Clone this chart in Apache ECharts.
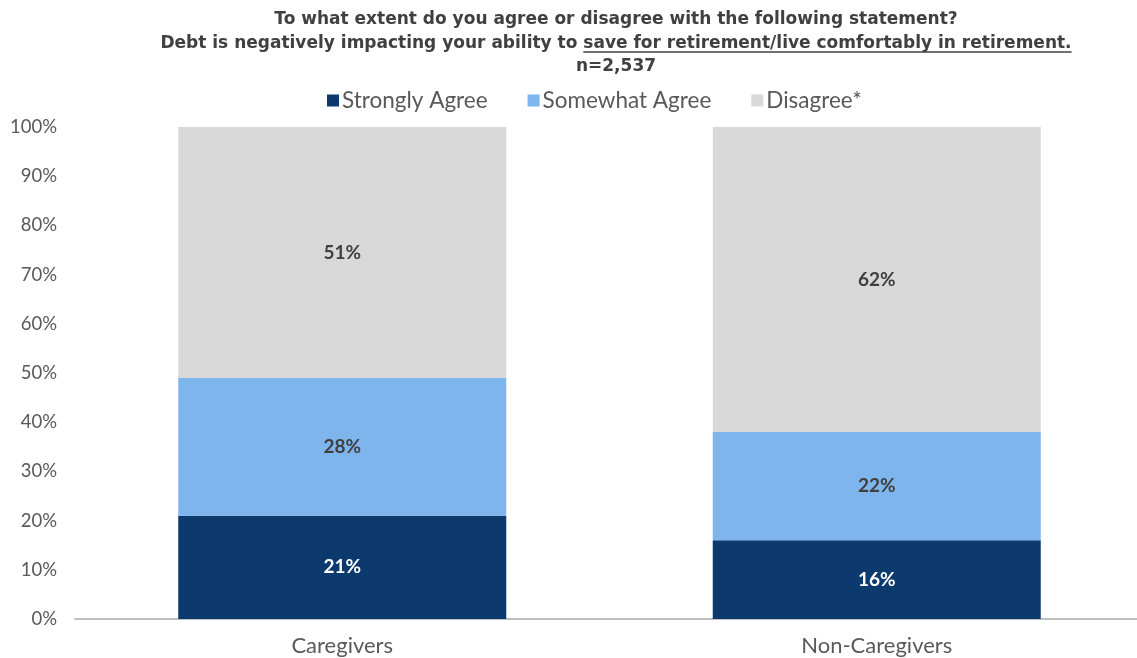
<!DOCTYPE html>
<html><head><meta charset="utf-8">
<script src="https://cdn.jsdelivr.net/npm/echarts@6/dist/echarts.min.js"></script>
<style>html,body{margin:0;padding:0;background:#fff;overflow:hidden}#c{width:1144px;height:658px}</style>
</head><body><div id="c"></div>
<script>
var categories = ['Caregivers', 'Non-Caregivers'];
var seriesNames = ['Strongly Agree', 'Somewhat Agree', 'Disagree*'];
var stronglyAgree = [21, 16];
var somewhatAgree = [28, 22];
var disagree = [51, 62];
var yTicks = [0, 10, 20, 30, 40, 50, 60, 70, 80, 90, 100];

var titleLine1 = 'To what extent do you agree or disagree with the following statement?';
var titleLine2a = 'Debt is negatively impacting your ability to ';
var titleLine2b = 'save for retirement/live comfortably in retirement.';
var titleLine3 = 'n=2,537';

var colors = ['#0c3a6e', '#7fb5ed', '#d9d9d9'];
var labelColors = ['#ffffff', '#404040', '#404040'];
var uiFont = 'Lato, "Open Sans", sans-serif';
var titleFont = '"DejaVu Sans", sans-serif';
var titleSize = 17;
var titleCx = 616;

var chart = echarts.init(document.getElementById('c'), null, {renderer: 'canvas'});

function mkSeries(name, data, i) {
  return {
    name: name, type: 'bar', stack: 'total', data: data, barWidth: 328,
    itemStyle: {color: colors[i]},
    label: {show: true, position: 'inside', formatter: '{c}%', color: labelColors[i],
      fontFamily: uiFont, fontWeight: 'bold', fontSize: 19}
  };
}

// measure underline position
var cv = document.createElement('canvas').getContext('2d');
cv.font = 'bold ' + titleSize + 'px ' + titleFont;
var wA = cv.measureText(titleLine2a).width;
var wB = cv.measureText(titleLine2b).width;
var line2Left = titleCx - (wA + wB) / 2;
var ulY = 52;

chart.setOption({
  animation: false,
  title: {
    text: titleLine1 + '\n' + titleLine2a + titleLine2b + '\n' + titleLine3,
    left: titleCx, top: 8, textAlign: 'center', padding: 0,
    textStyle: {fontFamily: titleFont, fontWeight: 'bold', fontSize: titleSize, color: '#404040', lineHeight: 23.5}
  },
  legend: {
    data: seriesNames, top: 89, left: 327, itemWidth: 12, itemHeight: 12, itemGap: 40,
    icon: 'rect', padding: 0,
    textStyle: {fontFamily: uiFont, fontSize: 22.5, color: '#595959', padding: [0, 0, 0, -2]}
  },
  grid: {left: 75, right: 0, top: 127, bottom: 39},
  xAxis: {
    type: 'category', data: categories,
    axisLine: {lineStyle: {color: '#bfbfbf', width: 2}},
    axisTick: {show: false},
    axisLabel: {fontFamily: uiFont, fontSize: 22, color: '#595959', margin: 16}
  },
  yAxis: {
    type: 'value', min: 0, max: 100, interval: 10,
    axisLine: {show: false}, axisTick: {show: false}, splitLine: {show: false},
    axisLabel: {fontFamily: uiFont, fontSize: 18.5, color: '#595959', margin: 18,
      formatter: function (v) { return yTicks.indexOf(v) >= 0 ? v + '%' : ''; }}
  },
  graphic: [{
    type: 'line', silent: true,
    shape: {x1: line2Left + wA, y1: ulY, x2: line2Left + wA + wB, y2: ulY},
    style: {stroke: '#404040', lineWidth: 1.3}
  }],
  series: [
    mkSeries(seriesNames[0], stronglyAgree, 0),
    mkSeries(seriesNames[1], somewhatAgree, 1),
    mkSeries(seriesNames[2], disagree, 2)
  ]
});
</script></body></html>
